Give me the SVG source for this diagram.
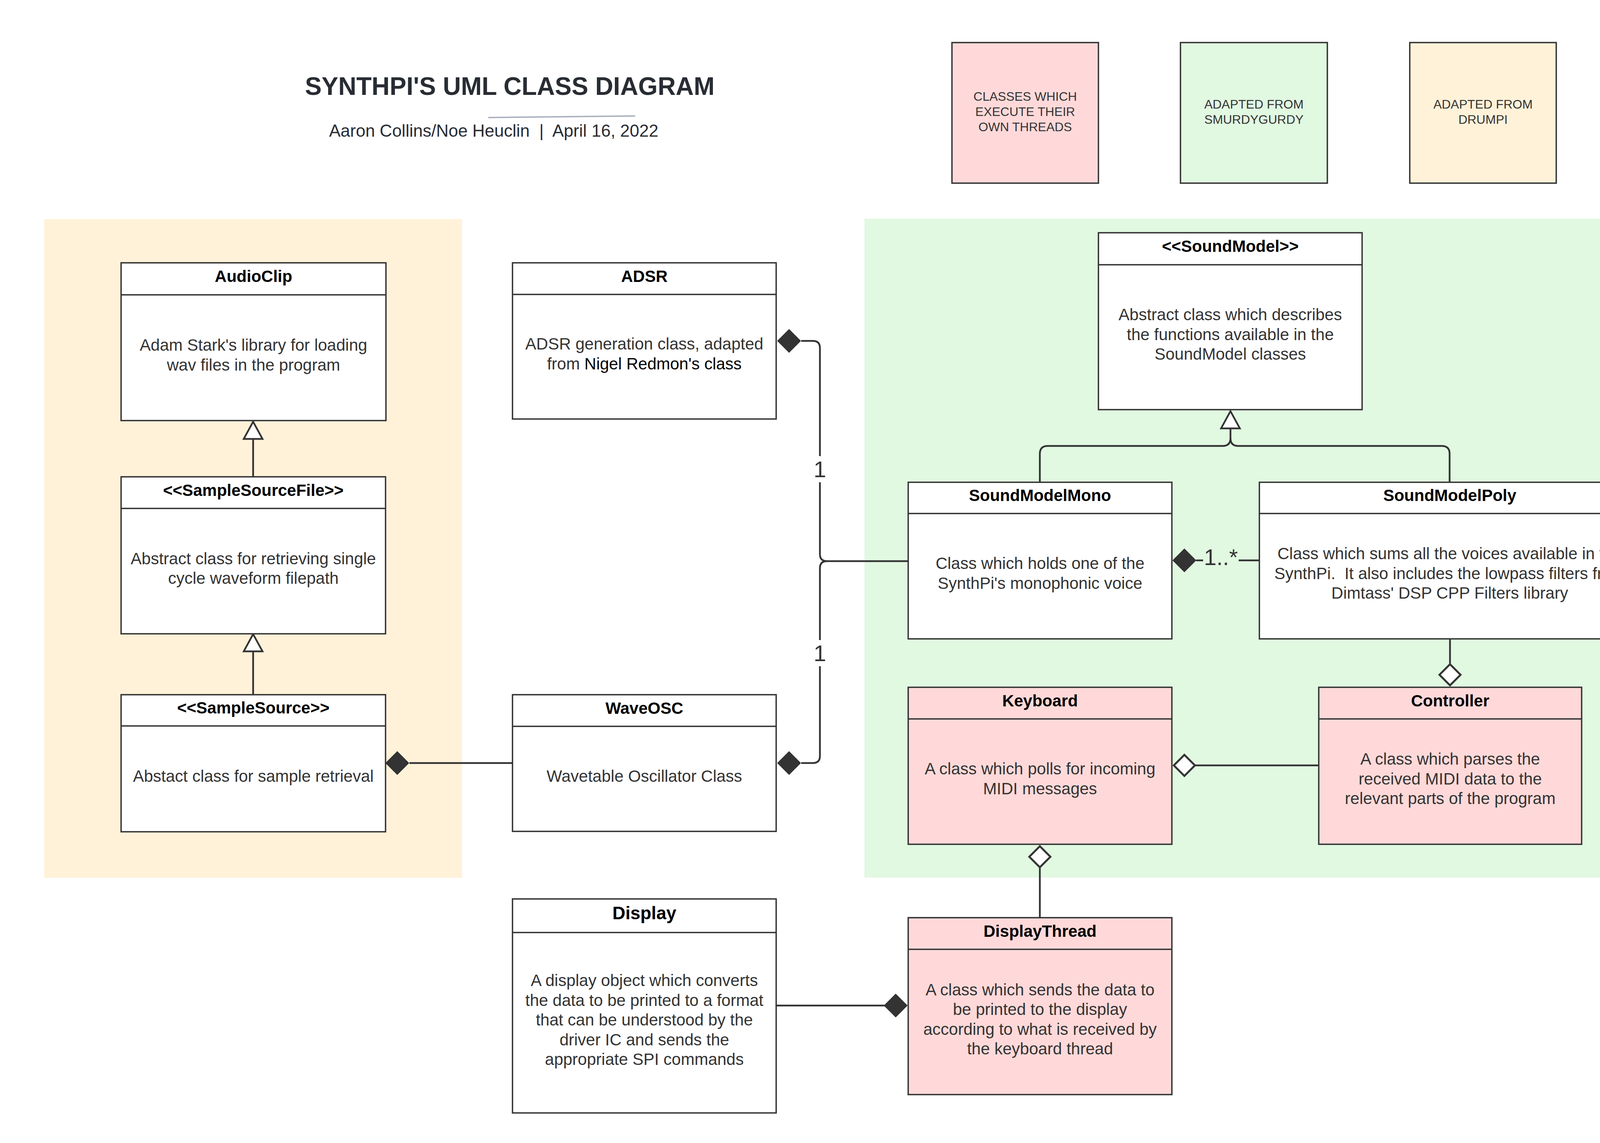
<svg xmlns="http://www.w3.org/2000/svg" xmlns:xlink="http://www.w3.org/1999/xlink" width="5334" height="2927" viewBox="0 0 5334 2927">
<style>
.box{stroke:#333;stroke-width:3.5}
.w{fill:#fff}
.p{fill:#ffd9d9}
.hdr{font-family:"Liberation Sans",Arial,sans-serif;font-weight:bold;font-size:42px;fill:#000;text-anchor:middle}
.body{font-family:"Liberation Sans",Arial,sans-serif;font-size:42px;fill:#333;text-anchor:middle;white-space:pre}
.leg{font-family:"Liberation Sans",Arial,sans-serif;font-size:32px;fill:#333;text-anchor:middle}
.conn{stroke:#333;stroke-width:4.5;fill:none}
.lbl{font-family:"Liberation Sans",Arial,sans-serif;font-size:58px;fill:#333}
</style>
<defs>
<polygon id="dFill" points="-30,0 0,-30 30,0 0,30" fill="#333" stroke="#333" stroke-width="1"/>
<polygon id="dHollow" points="-27,0 0,-27 27,0 0,27" fill="#fff" stroke="#333" stroke-width="5"/>
<polygon id="tri" points="0,0 24,44 -24,44" fill="#fff" stroke="#333" stroke-width="4.5" stroke-linejoin="miter"/>
</defs>
<rect x="0" y="0" width="5334" height="2927" fill="#fff"/>

<g id="backgrounds">
<rect x="113" y="561" width="1070" height="1687" fill="#fff2d9"/>
<rect x="2213" y="560" width="2043" height="1687" fill="#e1f8e1"/>
<rect x="4319" y="1085" width="938" height="694" fill="#fff2d9"/>
</g>

<g id="title">
<text x="1305" y="243" font-family="Liberation Sans, Arial, sans-serif" font-weight="bold" font-size="64" fill="#282c33" text-anchor="middle">SYNTHPI'S UML CLASS DIAGRAM</text>
<line x1="1250" y1="301" x2="1626" y2="297" stroke="#a7afbb" stroke-width="3.5"/>
<text x="1264" y="350" font-family="Liberation Sans, Arial, sans-serif" font-size="44" fill="#282c33" text-anchor="middle" style="white-space:pre">Aaron Collins/Noe Heuclin  |  April 16, 2022</text>
</g>

<g id="legend-threads">
<rect x="2437" y="109" width="375" height="360" class="box p" stroke-width="3"/>
<text class="leg" x="2624.5"><tspan x="2624.5" y="258">CLASSES WHICH</tspan><tspan x="2624.5" y="297">EXECUTE THEIR</tspan><tspan x="2624.5" y="336">OWN THREADS</tspan></text>
</g>
<g id="legend-smurdygurdy">
<rect x="3022" y="109" width="376" height="360" class="box" fill="#e1f8e1" stroke-width="3"/>
<text class="leg" x="3210"><tspan x="3210" y="278">ADAPTED FROM</tspan><tspan x="3210" y="317">SMURDYGURDY</tspan></text>
</g>
<g id="legend-drumpi">
<rect x="3609" y="109" width="375" height="360" class="box" fill="#fff2d9" stroke-width="3"/>
<text class="leg" x="3796.5"><tspan x="3796.5" y="278">ADAPTED FROM</tspan><tspan x="3796.5" y="317">DRUMPI</tspan></text>
</g>

<g id="connectors">
<!-- AudioClip <|- SampleSourceFile -->
<line x1="648" y1="1124" x2="648" y2="1221" class="conn"/>
<use xlink:href="#tri" x="648" y="1080"/>
<!-- SampleSourceFile <|- SampleSource -->
<line x1="648" y1="1667" x2="648" y2="1779" class="conn"/>
<use xlink:href="#tri" x="648" y="1624"/>
<!-- SampleSource <>- WaveOSC -->
<line x1="1048" y1="1954" x2="1312" y2="1954" class="conn"/>
<use xlink:href="#dFill" x="1017" y="1954"/>
<!-- ADSR / WaveOSC <>- SoundModelMono -->
<path class="conn" d="M2051 873 H2081 Q2099 873 2099 891 V1168 M2099 1235 V1419 Q2099 1437 2117 1437 H2325"/>
<path class="conn" d="M2051 1954 H2081 Q2099 1954 2099 1936 V1706 M2099 1639 V1455 Q2099 1437 2117 1437"/>
<use xlink:href="#dFill" x="2020" y="873"/>
<use xlink:href="#dFill" x="2020" y="1954"/>
<text class="lbl" x="2099" y="1222" text-anchor="middle">1</text>
<text class="lbl" x="2099" y="1693" text-anchor="middle">1</text>
<!-- SoundModel <|- Mono / Poly -->
<path class="conn" d="M3150 1097 V1122 Q3150 1142 3170 1142 H3691 Q3711 1142 3711 1162 V1235"/>
<path class="conn" d="M3150 1122 Q3150 1142 3130 1142 H2682 Q2662 1142 2662 1162 V1235"/>
<use xlink:href="#tri" x="3150" y="1053"/>
<!-- Mono <>- Poly -->
<line x1="3062" y1="1435" x2="3080" y2="1435" class="conn"/>
<line x1="3171" y1="1435" x2="3224" y2="1435" class="conn"/>
<use xlink:href="#dFill" x="3032" y="1435"/>
<text class="lbl" x="3082" y="1447">1..*</text>
<!-- Poly <>- Jack Client -->
<line x1="4261" y1="1435" x2="4337" y2="1435" class="conn"/>
<line x1="4406" y1="1435" x2="4499" y2="1435" class="conn"/>
<use xlink:href="#dFill" x="4231" y="1435"/>
<text class="lbl" x="4388" y="1448" text-anchor="middle">1</text>
<!-- Poly - <> Controller -->
<line x1="3712" y1="1637" x2="3712" y2="1700" class="conn"/>
<use xlink:href="#dHollow" x="3712" y="1728"/>
<!-- Keyboard <> - Controller -->
<line x1="3060" y1="1960" x2="3376" y2="1960" class="conn"/>
<use xlink:href="#dHollow" x="3032" y="1960"/>
<!-- Keyboard <> - DisplayThread -->
<line x1="2662" y1="2222" x2="2662" y2="2350" class="conn"/>
<use xlink:href="#dHollow" x="2662" y="2194"/>
<!-- Display -<> DisplayThread -->
<line x1="1987" y1="2575" x2="2265" y2="2575" class="conn"/>
<use xlink:href="#dFill" x="2293" y="2575"/>
</g>

<g id="AudioClip">
<rect x="310" y="673" width="678" height="404" class="box w"/>
<line x1="310" y1="755" x2="988" y2="755" class="box"/>
<text class="hdr" x="649" y="722">AudioClip</text>
<text class="body"><tspan x="649" y="898">Adam Stark's library for loading</tspan><tspan x="649" y="948.5">wav files in the program</tspan></text>
</g>

<g id="SampleSourceFile">
<rect x="310" y="1221" width="677" height="402" class="box w"/>
<line x1="310" y1="1302" x2="987" y2="1302" class="box"/>
<text class="hdr" x="648.5" y="1269.5">&lt;&lt;SampleSourceFile&gt;&gt;</text>
<text class="body"><tspan x="648.5" y="1444.5">Abstract class for retrieving single</tspan><tspan x="648.5" y="1495">cycle waveform filepath</tspan></text>
</g>

<g id="SampleSource">
<rect x="310" y="1779" width="677" height="351" class="box w"/>
<line x1="310" y1="1859" x2="987" y2="1859" class="box"/>
<text class="hdr" x="648.5" y="1827">&lt;&lt;SampleSource&gt;&gt;</text>
<text class="body" x="648.5" y="2001.5">Abstact class for sample retrieval</text>
</g>

<g id="ADSR">
<rect x="1312" y="673" width="675" height="400" class="box w"/>
<line x1="1312" y1="754" x2="1987" y2="754" class="box"/>
<text class="hdr" x="1649.5" y="721.5">ADSR</text>
<text class="body"><tspan x="1649.5" y="895">ADSR generation class, adapted</tspan><tspan x="1649.5" y="945.5">from <tspan fill="#000">Nigel Redmon's class</tspan></tspan></text>
</g>

<g id="WaveOSC">
<rect x="1312" y="1779" width="675" height="350" class="box w"/>
<line x1="1312" y1="1860" x2="1987" y2="1860" class="box"/>
<text class="hdr" x="1649.5" y="1827.5">WaveOSC</text>
<text class="body" x="1649.5" y="2001.5">Wavetable Oscillator Class</text>
</g>

<g id="SoundModel">
<rect x="2812" y="596" width="675" height="453" class="box w"/>
<line x1="2812" y1="678" x2="3487" y2="678" class="box"/>
<text class="hdr" x="3149.5" y="645">&lt;&lt;SoundModel&gt;&gt;</text>
<text class="body"><tspan x="3149.5" y="820">Abstract class which describes</tspan><tspan x="3149.5" y="870.5">the functions available in the</tspan><tspan x="3149.5" y="921">SoundModel classes</tspan></text>
</g>

<g id="SoundModelMono">
<rect x="2325" y="1235" width="675" height="401" class="box w"/>
<line x1="2325" y1="1315" x2="3000" y2="1315" class="box"/>
<text class="hdr" x="2662.5" y="1283">SoundModelMono</text>
<text class="body"><tspan x="2662.5" y="1457">Class which holds one of the</tspan><tspan x="2662.5" y="1507.5">SynthPi's monophonic voice</tspan></text>
</g>

<g id="SoundModelPoly">
<rect x="3224" y="1235" width="975" height="401" class="box w"/>
<line x1="3224" y1="1315" x2="4199" y2="1315" class="box"/>
<text class="hdr" x="3711.5" y="1283">SoundModelPoly</text>
<text class="body"><tspan x="3711.5" y="1432">Class which sums all the voices available in the</tspan><tspan x="3711.5" y="1482.5">SynthPi.  It also includes the lowpass filters from</tspan><tspan x="3711.5" y="1533">Dimtass' DSP CPP Filters library</tspan></text>
</g>

<g id="JackClient">
<rect x="4499" y="1235" width="676" height="402" class="box w"/>
<line x1="4499" y1="1315" x2="5175" y2="1315" class="box"/>
<text class="hdr" x="4837" y="1283">Jack Client</text>
<text class="body"><tspan x="4837" y="1432">A class which connect to the</tspan><tspan x="4837" y="1482.5">JACK interface to send samples</tspan><tspan x="4837" y="1533">to the IQaudIO DAC hat</tspan></text>
</g>

<g id="Keyboard">
<rect x="2325" y="1760" width="675" height="402" class="box p"/>
<line x1="2325" y1="1841" x2="3000" y2="1841" class="box"/>
<text class="hdr" x="2662.5" y="1808.5">Keyboard</text>
<text class="body"><tspan x="2662.5" y="1983">A class which polls for incoming</tspan><tspan x="2662.5" y="2033.5">MIDI messages</tspan></text>
</g>

<g id="Controller">
<rect x="3376" y="1760" width="673" height="402" class="box p"/>
<line x1="3376" y1="1841" x2="4049" y2="1841" class="box"/>
<text class="hdr" x="3712.5" y="1808.5">Controller</text>
<text class="body"><tspan x="3712.5" y="1958">A class which parses the</tspan><tspan x="3712.5" y="2008.5">received MIDI data to the</tspan><tspan x="3712.5" y="2059">relevant parts of the program</tspan></text>
</g>

<g id="Display">
<rect x="1312" y="2302" width="675" height="548" class="box w"/>
<line x1="1312" y1="2388" x2="1987" y2="2388" class="box"/>
<text class="hdr" x="1649.5" y="2354" font-size="46" style="font-size:46px">Display</text>
<text class="body"><tspan x="1649.5" y="2525">A display object which converts</tspan><tspan x="1649.5" y="2575.5">the data to be printed to a format</tspan><tspan x="1649.5" y="2626">that can be understood by the</tspan><tspan x="1649.5" y="2676.5">driver IC and sends the</tspan><tspan x="1649.5" y="2727">appropriate SPI commands</tspan></text>
</g>

<g id="DisplayThread">
<rect x="2325" y="2350" width="675" height="453" class="box p"/>
<line x1="2325" y1="2431" x2="3000" y2="2431" class="box"/>
<text class="hdr" x="2662.5" y="2398.5">DisplayThread</text>
<text class="body"><tspan x="2662.5" y="2548.5">A class which sends the data to</tspan><tspan x="2662.5" y="2599">be printed to the display</tspan><tspan x="2662.5" y="2649.5">according to what is received by</tspan><tspan x="2662.5" y="2700">the keyboard thread</tspan></text>
</g>
</svg>
